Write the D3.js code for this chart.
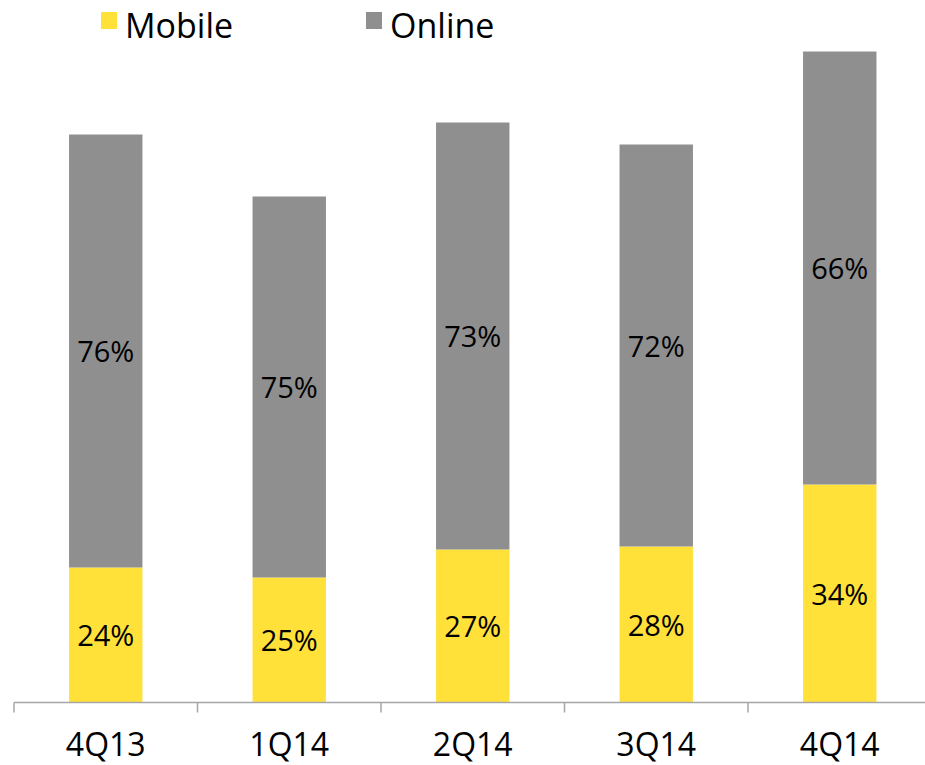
<!DOCTYPE html>
<html lang="en">
    <head>
        <meta charset="UTF-8">
        <title>Mobile vs Online</title>
        <style>
            body { margin: 0; background: #fff; }
            svg text { font-family: "Open Sans", sans-serif; fill: #000; }
            .axis line, .axis path { stroke: #a6a6a6; stroke-width: 1.5; }
        </style>
    </head>
    <body>
<svg width="925" height="765"></svg>
<script src="https://cdnjs.cloudflare.com/ajax/libs/d3/7.8.5/d3.min.js"></script>
<script>

var quarters = ["4Q13", "1Q14", "2Q14", "3Q14", "4Q14"];
var mobile = [1.35, 1.25, 1.53, 1.56, 2.18];
var online = [4.33, 3.81, 4.27, 4.02, 4.33];
var mobileLabels = ["24%", "25%", "27%", "28%", "34%"];
var onlineLabels = ["76%", "75%", "73%", "72%", "66%"];
var seriesNames = ["Mobile", "Online"];
var colors = ["#ffe13a", "#8f8f8f"];

var svg = d3.select("svg"),
    baseY = 702.5;

var rows = quarters.map(function(q, i) {
  return {q: q, Mobile: mobile[i], Online: online[i], labels: [mobileLabels[i], onlineLabels[i]]};
});

var stacked = d3.stack().keys(seriesNames)(rows);

var x = d3.scaleBand()
    .domain(quarters)
    .range([14, 931.5])
    .paddingInner(0.6)
    .paddingOuter(0.3);

var y = d3.scaleLinear()
    .domain([0, 7.025])
    .range([baseY, 0]);

var series = svg.selectAll(".series")
  .data(stacked)
  .enter().append("g")
    .attr("fill", function(d, i) { return colors[i]; });

series.selectAll("rect")
  .data(function(d) { return d; })
  .enter().append("rect")
    .attr("x", function(d) { return x(d.data.q); })
    .attr("y", function(d) { return y(d[1]); })
    .attr("width", x.bandwidth())
    .attr("height", function(d) { return y(d[0]) - y(d[1]); });

// percentage labels centred in each segment
stacked.forEach(function(s, k) {
  svg.selectAll(".lab" + k)
    .data(s)
    .enter().append("text")
      .attr("x", function(d) { return x(d.data.q) + x.bandwidth() / 2; })
      .attr("y", function(d) { return (y(d[0]) + y(d[1])) / 2 + 11; })
      .attr("text-anchor", "middle")
      .style("font-size", "29px")
      .text(function(d) { return d.data.labels[k]; });
});

// x axis: line with ticks between categories
var axis = svg.append("g").attr("class", "axis");
var half = x.step() / 2;
axis.append("line")
    .attr("x1", 14).attr("x2", 925)
    .attr("y1", baseY).attr("y2", baseY);
axis.selectAll(".tick")
  .data(quarters)
  .enter().append("line")
    .attr("x1", function(d) { return x(d) + x.bandwidth() / 2 - half; })
    .attr("x2", function(d) { return x(d) + x.bandwidth() / 2 - half; })
    .attr("y1", baseY).attr("y2", baseY + 10);

svg.selectAll(".xlab")
  .data(quarters)
  .enter().append("text")
    .attr("x", function(d) { return x(d) + x.bandwidth() / 2; })
    .attr("y", 756)
    .attr("text-anchor", "middle")
    .style("font-size", "32px")
    .text(function(d) { return d; });

// legend
var legendX = [101, 366];
var legend = svg.selectAll(".legend")
  .data(seriesNames)
  .enter().append("g")
    .attr("transform", function(d, i) { return "translate(" + legendX[i] + ",0)"; });

legend.append("rect")
    .attr("y", 12)
    .attr("width", 16)
    .attr("height", 17)
    .attr("fill", function(d, i) { return colors[i]; });

legend.append("text")
    .attr("x", 24)
    .attr("y", 38)
    .style("font-size", "34px")
    .text(function(d) { return d; });

</script>
</body>
</html>
